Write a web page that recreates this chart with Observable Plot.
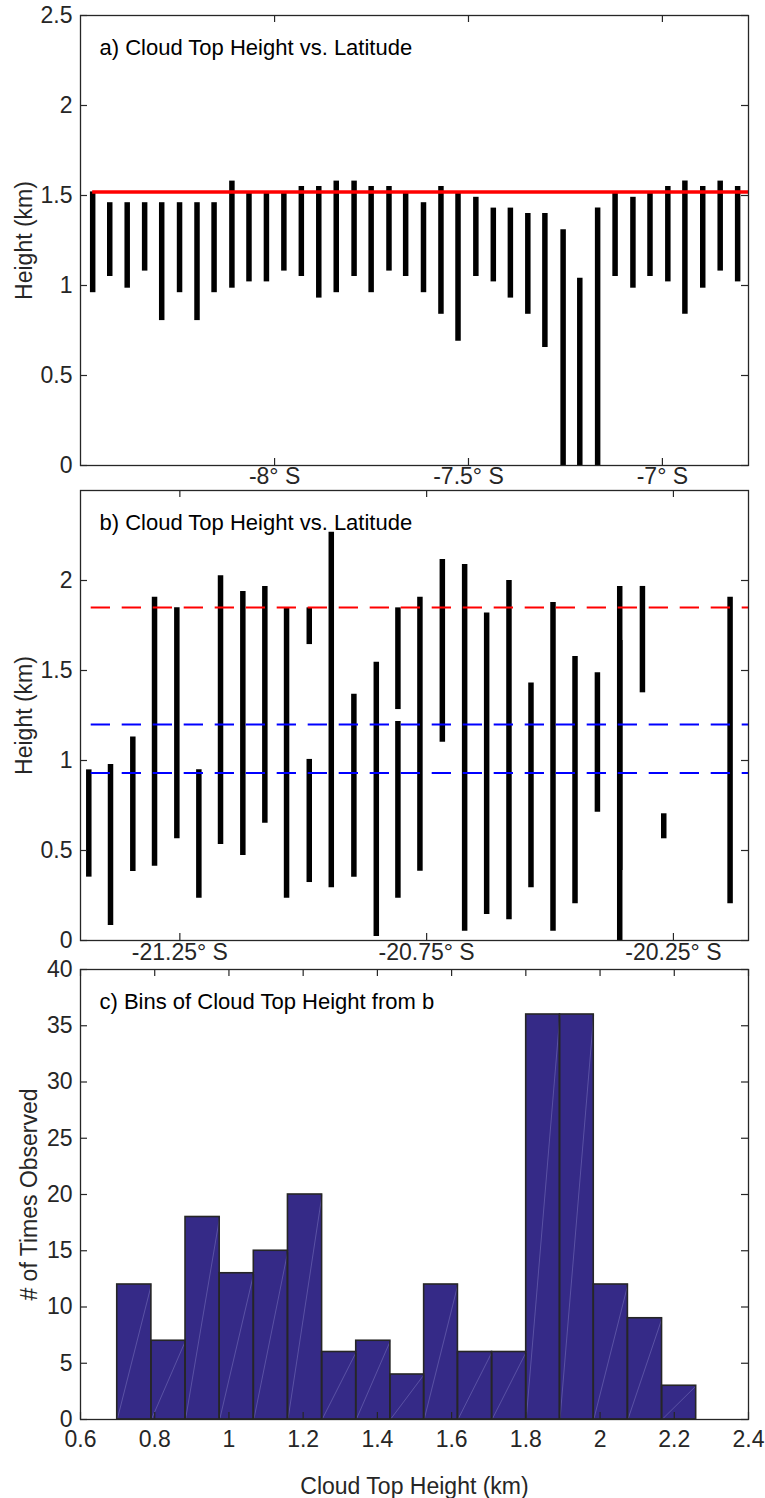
<!DOCTYPE html>
<html>
<head>
<meta charset="utf-8">
<script src="https://cdn.jsdelivr.net/npm/d3@7"></script>
<script src="https://cdn.jsdelivr.net/npm/@observablehq/plot@0.6"></script>
<style>
  body { margin: 0; background: #fff; }
  #wrap { position: relative; width: 765px; height: 1498px; }
</style>
</head>
<body>
<div id="wrap"></div>
<script>
// ---------------- Panel a data ----------------
const titleA = "a) Cloud Top Height vs. Latitude";
const latA = [-8.469, -8.425, -8.380, -8.335, -8.291, -8.245, -8.200, -8.156, -8.110, -8.066,
              -8.021, -7.976, -7.931, -7.886, -7.841, -7.795, -7.751, -7.705, -7.662, -7.616,
              -7.571, -7.527, -7.481, -7.436, -7.392, -7.347, -7.303, -7.256, -7.213, -7.167,
              -7.122, -7.076, -7.032, -6.986, -6.942, -6.896, -6.851, -6.806];
const topA  = [1.52, 1.46, 1.46, 1.46, 1.46, 1.46, 1.46, 1.46, 1.58, 1.52,
               1.52, 1.52, 1.55, 1.55, 1.58, 1.58, 1.55, 1.55, 1.52, 1.46,
               1.55, 1.52, 1.49, 1.43, 1.43, 1.40, 1.40, 1.31, 1.04, 1.43,
               1.52, 1.49, 1.52, 1.55, 1.58, 1.55, 1.58, 1.55];
const baseA = [0.96, 1.05, 0.985, 1.08, 0.805, 0.96, 0.805, 0.96, 0.985, 1.02,
               1.02, 1.08, 1.05, 0.93, 0.96, 1.05, 0.96, 1.08, 1.05, 0.96,
               0.84, 0.69, 1.05, 1.02, 0.93, 0.84, 0.655, 0, 0, 0,
               1.05, 0.985, 1.05, 1.02, 0.84, 0.985, 1.08, 1.02];
const meanTopA = 1.52;
const xDomainA = [-8.5004, -6.778];
const yDomainA = [0, 2.5];
const latTicksA = [-8, -7.5, -7];
const heightTicksA = [0, 0.5, 1, 1.5, 2, 2.5];

// ---------------- Panel b data ----------------
const titleB = "b) Cloud Top Height vs. Latitude";
const latB  = [-21.4345, -21.3905, -21.3453, -21.3013, -21.2561, -21.2115, -21.1676, -21.1224,
               -21.0778, -21.0338, -20.9878, -20.9878, -20.9432, -20.8974, -20.8520, -20.8082,
               -20.8082, -20.7636, -20.7182, -20.6730, -20.6284, -20.5832, -20.5386, -20.4940,
               -20.4494, -20.4040, -20.3588, -20.3588, -20.3128, -20.2696, -20.1352];
const topB  = [0.948, 0.978, 1.130, 1.907, 1.848, 0.948, 2.026, 1.939,
               1.967, 1.848, 1.848, 1.006, 2.268, 1.368, 1.546, 1.848,
               1.217, 1.907, 2.117, 2.089, 1.819, 2.000, 1.430, 1.878,
               1.578, 1.487, 1.967, 1.667, 1.967, 0.704, 1.907];
const baseB = [0.352, 0.083, 0.383, 0.413, 0.565, 0.235, 0.533, 0.472,
               0.652, 0.235, 1.644, 0.322, 0.293, 0.352, 0.022, 1.283,
               0.235, 0.385, 1.102, 0.052, 0.144, 0.115, 0.293, 0.052,
               0.204, 0.713, 0.389, 0, 1.376, 0.565, 0.204];
const refValuesB = [1.85, 1.20, 0.93];
const refColorsB = ["#ff0000", "#0000ff", "#0000ff"];
const xDomainB = [-21.4513, -20.0979];
const yDomainB = [0, 2.5];
const latTicksB = [-21.25, -20.75, -20.25];
const heightTicksB = [0, 0.5, 1, 1.5, 2];

// ---------------- Panel c data ----------------
const titleC = "c) Bins of Cloud Top Height from b";
const binEdgesC = [0.699, 0.791, 0.883, 0.975, 1.067, 1.159, 1.251, 1.343, 1.435, 1.526,
                   1.617, 1.709, 1.801, 1.892, 1.983, 2.075, 2.167, 2.259];
const countsC = [12, 7, 18, 13, 15, 20, 6, 7, 4, 12, 6, 6, 36, 36, 12, 9, 3];
const xDomainC = [0.6, 2.4];
const yDomainC = [0, 40];
const xTicksC = [0.6, 0.8, 1, 1.2, 1.4, 1.6, 1.8, 2, 2.2, 2.4];
const yTicksC = [0, 5, 10, 15, 20, 25, 30, 35, 40];

const yLabelAB = "Height (km)";
const yLabelC = "# of Times Observed";
const xLabelC = "Cloud Top Height (km)";

// ---------------- styling ----------------
const FONT = '"Liberation Sans", Arial, Helvetica, sans-serif';
const FS_TICK = 23, FS_TITLE = 22, FS_LABEL = 23;
const INK = "#262626";
const W = 765, ML = 80, MR = 17, INNER_W = W - ML - MR, INNER_H = 450, TICK = 7;
const fmtLat = d => `${d}° S`;
const fmtNum = d => String(d);

function baseStyle() {
  return {fontFamily: FONT, fontSize: FS_TICK + "px", color: INK, background: "transparent", overflow: "visible"};
}
function frameTicks(xt, yt) {
  return [
    Plot.tickX(xt, {x: d => d, insetTop: INNER_H - TICK, stroke: INK, strokeWidth: 1.2}),
    Plot.tickX(xt, {x: d => d, insetBottom: INNER_H - TICK, stroke: INK, strokeWidth: 1.2}),
    Plot.tickY(yt, {y: d => d, insetRight: INNER_W - TICK, stroke: INK, strokeWidth: 1.2}),
    Plot.tickY(yt, {y: d => d, insetLeft: INNER_W - TICK, stroke: INK, strokeWidth: 1.2}),
    Plot.frame({stroke: INK, strokeWidth: 1.3})
  ];
}
function titleMark(t) {
  return Plot.text([t], {text: d => d, frameAnchor: "top-left", dx: 19, dy: 32,
    textAnchor: "start", lineAnchor: "middle", fontSize: FS_TITLE, fill: "#000"});
}
function yLabelMark(t, dx) {
  return Plot.text([t], {text: d => d, frameAnchor: "left", dx, rotate: -90,
    textAnchor: "middle", lineAnchor: "middle", fontSize: FS_LABEL, fill: INK});
}

// ---------------- Panel a ----------------
const rowsA = latA.map((lat, i) => ({lat, top: topA[i], base: baseA[i]}));
const plotA = Plot.plot({
  width: W, height: 490,
  marginTop: 15, marginBottom: 25, marginLeft: ML, marginRight: MR,
  style: baseStyle(),
  x: {domain: xDomainA, ticks: latTicksA, tickFormat: fmtLat, tickSize: 0, tickPadding: 2, label: null},
  y: {domain: yDomainA, ticks: heightTicksA, tickFormat: fmtNum, tickSize: 0, tickPadding: 8, label: null},
  marks: [
    Plot.ruleX(rowsA, {x: "lat", y1: "base", y2: "top", stroke: "#000", strokeWidth: 5.5}),
    Plot.ruleY([meanTopA], {y: d => d, x1: () => latA[0], x2: () => xDomainA[1], stroke: "#ff0000", strokeWidth: 3.5}),
    ...frameTicks(latTicksA, heightTicksA),
    titleMark(titleA),
    yLabelMark(yLabelAB, -55.5)
  ]
});

// ---------------- Panel b ----------------
const rowsB = latB.map((lat, i) => ({lat, top: topB[i], base: baseB[i]}));
const refRowsB = refValuesB.map((v, i) => ({v, color: refColorsB[i]}));
const plotB = Plot.plot({
  width: W, height: 500,
  marginTop: 25, marginBottom: 25, marginLeft: ML, marginRight: MR,
  style: baseStyle(),
  x: {domain: xDomainB, ticks: latTicksB, tickFormat: fmtLat, tickSize: 0, tickPadding: 3, label: null},
  y: {domain: yDomainB, ticks: heightTicksB, tickFormat: fmtNum, tickSize: 0, tickPadding: 8, label: null},
  marks: [
    Plot.ruleX(rowsB, {x: "lat", y1: "base", y2: "top", stroke: "#000", strokeWidth: 5.5}),
    Plot.ruleY(refRowsB, {y: "v", x1: () => latB[0], x2: () => xDomainB[1], stroke: d => d.color,
      strokeWidth: 2, strokeDasharray: "19.3,11.7", strokeDashoffset: -2.4}),
    ...frameTicks(latTicksB, heightTicksB),
    titleMark(titleB),
    yLabelMark(yLabelAB, -55.5)
  ]
});

// ---------------- Panel c ----------------
const rowsC = countsC.map((c, i) => ({lo: binEdgesC[i], hi: binEdgesC[i + 1], count: c}));
const plotC = Plot.plot({
  width: W, height: 554,
  marginTop: 25, marginBottom: 79, marginLeft: ML, marginRight: MR,
  style: baseStyle(),
  x: {domain: xDomainC, ticks: xTicksC, tickFormat: fmtNum, tickSize: 0, tickPadding: 11, label: null},
  y: {domain: yDomainC, ticks: yTicksC, tickFormat: fmtNum, tickSize: 0, tickPadding: 8, label: null},
  marks: [
    Plot.rectY(rowsC, {x1: "lo", x2: "hi", y1: 0, y2: "count", fill: "#352a87", stroke: "none"}),
    Plot.link(rowsC, {x1: "lo", y1: () => 0, x2: "hi", y2: "count", stroke: "#8f89cc", strokeWidth: 0.6, strokeOpacity: 0.7}),
    Plot.rectY(rowsC, {x1: "lo", x2: "hi", y1: 0, y2: "count", fill: "none", stroke: INK, strokeWidth: 1.6}),
    ...frameTicks(xTicksC, yTicksC),
    titleMark(titleC),
    yLabelMark(yLabelC, -50.5),
    Plot.text([xLabelC], {text: d => d, frameAnchor: "bottom", dy: 67, textAnchor: "middle",
      lineAnchor: "middle", fontSize: FS_LABEL, fill: INK})
  ]
});

const wrap = document.getElementById("wrap");
[[plotA, 0], [plotB, 465], [plotC, 944]].forEach(([svg, top]) => {
  svg.style.position = "absolute";
  svg.style.left = "0px";
  svg.style.top = top + "px";
  wrap.appendChild(svg);
});
</script>
</body>
</html>
